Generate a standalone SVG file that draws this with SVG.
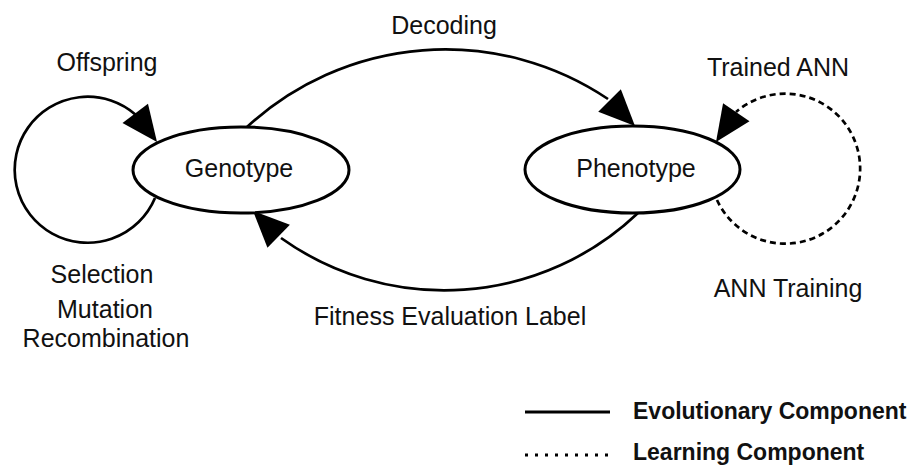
<svg xmlns="http://www.w3.org/2000/svg" xmlns:xlink="http://www.w3.org/1999/xlink" width="914" height="467" viewBox="0 0 914 467">
<style>
.lbl{font-family:"Liberation Sans",Arial,sans-serif;font-size:25px;fill:#111;text-anchor:middle}
.leg{font-family:"Liberation Sans",Arial,sans-serif;font-size:23px;font-weight:bold;fill:#111}
.node{fill:#fff;stroke:#000;stroke-width:3}
.edge{fill:none;stroke:#000;stroke-width:2.7}
.dash{fill:none;stroke:#000;stroke-width:2.7;stroke-dasharray:6 4}
</style>
<defs>
<path id="ah" d="M0,0 L-36,-16 L-36,16 Z" fill="#000"/>
</defs>
<rect width="914" height="467" fill="#fff"/>
<g id="connectors">
<path class="edge" d="M155,198 A73,73 0 1 1 136,115"/>
<use xlink:href="#ah" transform="translate(157,142) rotate(52.8)"/>
<path class="edge" d="M247,127 A292,292 0 0 1 608,99"/>
<use xlink:href="#ah" transform="translate(635,126) rotate(45)"/>
<path class="edge" d="M638,213 A281,281 0 0 1 281,238"/>
<use xlink:href="#ah" transform="translate(253,211) rotate(224.5)"/>
<path class="dash" d="M717,200 A75,75 0 1 0 736,112"/>
<use xlink:href="#ah" transform="translate(716,142) rotate(124.3)"/>
</g>
<g id="genotype">
<ellipse class="node" cx="241" cy="170" rx="108" ry="43"/>
<text class="lbl" x="239" y="177">Genotype</text>
</g>
<g id="phenotype">
<ellipse class="node" cx="632.5" cy="169.5" rx="107.5" ry="43.5"/>
<text class="lbl" x="636" y="177">Phenotype</text>
</g>
<g id="labels">
<text class="lbl" x="107" y="71">Offspring</text>
<text class="lbl" x="444" y="34">Decoding</text>
<text class="lbl" x="778" y="76">Trained ANN</text>
<text class="lbl" x="102" y="283">Selection</text>
<text class="lbl" x="105" y="318">Mutation</text>
<text class="lbl" x="106" y="347">Recombination</text>
<text class="lbl" x="788" y="297">ANN Training</text>
<text class="lbl" x="450" y="325">Fitness Evaluation Label</text>
</g>
<g id="legend">
<line x1="525" y1="412" x2="610" y2="412" stroke="#000" stroke-width="3"/>
<line x1="525" y1="455" x2="610" y2="455" stroke="#000" stroke-width="3" stroke-dasharray="3 7"/>
<text class="leg" x="633" y="419">Evolutionary Component</text>
<text class="leg" x="633" y="460">Learning Component</text>
</g>
</svg>
